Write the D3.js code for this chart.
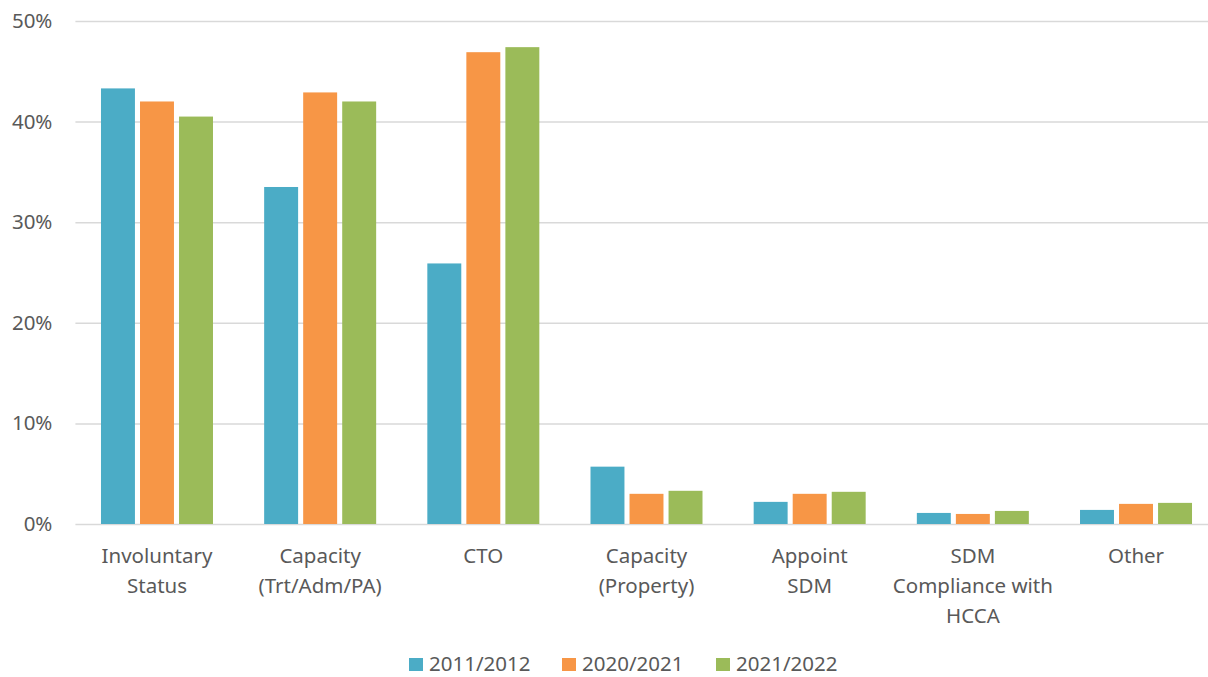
<!DOCTYPE html>
<html>
<head>
<meta charset="utf-8">
<script src="https://cdn.jsdelivr.net/npm/d3@7"></script>
<style>
  html, body { margin: 0; padding: 0; background: #fff; }
  svg { display: block; font-family: "Noto Sans", "Open Sans", sans-serif; }
</style>
</head>
<body>
<svg id="chart" width="1208" height="677"></svg>
<script>
// Share of matters by type, three reporting years (percent)
const categories = [
  ["Involuntary", "Status"],
  ["Capacity", "(Trt/Adm/PA)"],
  ["CTO"],
  ["Capacity", "(Property)"],
  ["Appoint", "SDM"],
  ["SDM", "Compliance with", "HCCA"],
  ["Other"]
];
const seriesNames = ["2011/2012", "2020/2021", "2021/2022"];
const values2011 = [43.3, 33.5, 25.9, 5.7, 2.2, 1.1, 1.4];
const values2020 = [42.0, 42.9, 46.9, 3.0, 3.0, 1.0, 2.0];
const values2021 = [40.5, 42.0, 47.4, 3.3, 3.2, 1.3, 2.1];
const yTicks = [0, 10, 20, 30, 40, 50];
const colors = ["#4BACC6", "#F79646", "#9BBB59"];

const series = [values2011, values2020, values2021];

const svg = d3.select("#chart");
const plot = { left: 75.4, right: 1217.6, top: 21, bottom: 524 };
const fontSize = "20.5px";
const textColor = "#595959";

const x = d3.scaleBand()
  .domain(d3.range(categories.length))
  .range([plot.left, plot.right])
  .paddingInner(0)
  .paddingOuter(0);

const y = d3.scaleLinear().domain([0, 50]).range([plot.bottom, plot.top]);

const groupWidth = 112;
const sub = d3.scaleBand()
  .domain(d3.range(series.length))
  .range([0, groupWidth])
  .paddingInner(0.13);

// Gridlines and percent labels
const yAxis = d3.axisLeft(y)
  .tickValues(yTicks)
  .tickFormat(d => d + "%")
  .tickSize(-(plot.right - plot.left))
  .tickPadding(23);

const gy = svg.append("g")
  .attr("transform", `translate(${plot.left},0)`)
  .call(yAxis);
gy.attr("font-family", null).attr("font-size", null);
gy.select(".domain").remove();
gy.selectAll(".tick line")
  .attr("stroke", "#D9D9D9")
  .attr("stroke-width", 1.5);
gy.selectAll(".tick text")
  .attr("fill", textColor)
  .style("font-size", fontSize);

// Bars
series.forEach((vals, si) => {
  svg.append("g")
    .selectAll("rect")
    .data(vals)
    .join("rect")
    .attr("x", (d, i) => x(i) + (x.bandwidth() - groupWidth) / 2 + sub(si))
    .attr("width", sub.bandwidth())
    .attr("y", d => y(d))
    .attr("height", d => y(0) - y(d))
    .attr("fill", colors[si]);
});

// Category labels
const xAxis = d3.axisBottom(x).tickSize(0).tickFormat("");
const gx = svg.append("g")
  .attr("transform", `translate(0,${plot.bottom})`)
  .call(xAxis);
gx.attr("font-family", null).attr("font-size", null);
gx.select(".domain").remove();
gx.selectAll(".tick").each(function(i) {
  const t = d3.select(this).append("text")
    .attr("fill", textColor)
    .attr("text-anchor", "middle")
    .style("font-size", fontSize);
  categories[i].forEach((line, li) => {
    t.append("tspan")
      .attr("x", 0)
      .attr("y", 38.5 + li * 30)
      .text(line);
  });
});

// Legend
const legendX = [409, 562, 716];
const legend = svg.append("g");
seriesNames.forEach((name, i) => {
  const g = legend.append("g").attr("transform", `translate(${legendX[i]},658)`);
  g.append("rect").attr("width", 14).attr("height", 13).attr("fill", colors[i]);
  g.append("text")
    .attr("x", 20)
    .attr("y", 12.5)
    .attr("fill", textColor)
    .style("font-size", fontSize)
    .text(name);
});
</script>
</body>
</html>
